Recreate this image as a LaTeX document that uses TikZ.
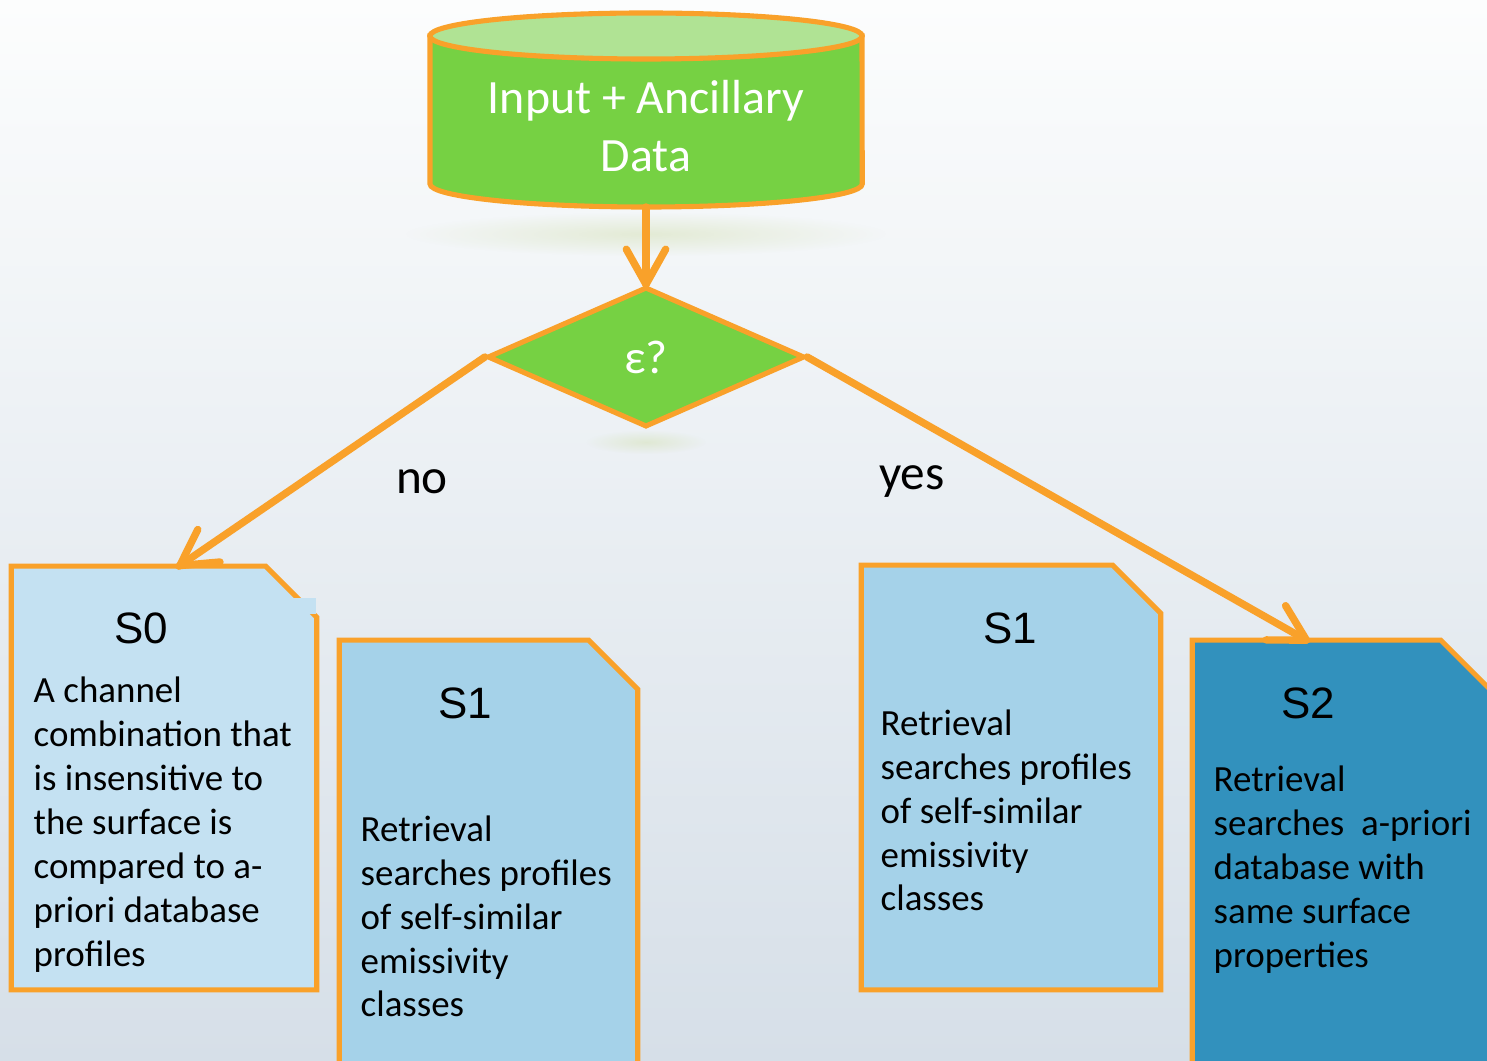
\documentclass[tikz,border=0pt]{standalone}
\usepackage{fontspec}
\setmainfont{Carlito}
\newfontfamily\labelfont{Liberation Sans}
\usetikzlibrary{shapes.geometric,decorations.markings,fadings}

\definecolor{flowgreen}{RGB}{118,209,67}
\definecolor{lightgreen}{RGB}{176,227,148}
\definecolor{lineorange}{RGB}{249,161,42}
\definecolor{paleblue}{RGB}{196,225,242}
\definecolor{skyblue}{RGB}{165,210,233}
\definecolor{deepblue}{RGB}{50,145,189}
\definecolor{bgtop}{RGB}{252,253,253}
\definecolor{bgbottom}{RGB}{214,223,232}
\definecolor{shadowtint}{RGB}{214,226,186}

\tikzfading[name=softedge, inner color=transparent!20, outer color=transparent!100]

\tikzset{
	outline/.style={draw=lineorange, line width=1.45pt},
	flowarrow/.style={draw=lineorange, line width=2.1pt, line cap=round, line join=round,
		postaction={decorate}, decoration={markings, mark=at position 1 with {\draw[lineorange, line width=2.1pt, line cap=round, line join=round] (-10pt,5.6pt) -- (0pt,0pt) -- (-10pt,-5.6pt);}}},
	sbox/.style={rectangle, inner sep=0pt},
	stitle/.style={font=\labelfont\fontsize{12.5}{14}\selectfont},
	sbody/.style={align=left, anchor=base west, inner sep=0pt, font=\fontsize{10.5}{12.5}\selectfont},
	softshadow/.style={fill=shadowtint, opacity=0.7, path fading=softedge},
}

\begin{document}
\begin{tikzpicture}[x=0.01cm,y=-0.01cm]
	\useasboundingbox (0,0) rectangle (1487,1061);
	\shade[top color=bgtop, bottom color=bgbottom] (0,0) rectangle (1487,1061);
	%shadows
	\fill[softshadow] (646,234) ellipse [x radius=2.4cm, y radius=0.22cm];
	\fill[softshadow] (646,442) ellipse [x radius=0.6cm, y radius=0.12cm];
	%DATA
	\path[fill=flowgreen, outline] (430,36) -- (430,184) arc[start angle=180, end angle=360, x radius=2.16cm, y radius=0.23cm] -- (862,36) -- cycle;
	\draw[fill=lightgreen, outline] (646,36) ellipse [x radius=2.16cm, y radius=0.23cm];
	\node[text=white, align=center, font=\fontsize{13.6}{16.5}\selectfont] (data) at (646,126) {Input + Ancillary\\Data};
	\coordinate (datafoot) at (646,207);
	%TEST
	\node[diamond, aspect=2.26, fill=flowgreen, outline, minimum width=3.17cm, minimum height=1.40cm, inner sep=0pt, text=white, font=\fontsize{13.5}{15}\selectfont] (eps) at (646,357) {ε?};
	\draw[flowarrow] (datafoot) -- (eps.north);
	%BOXES
	\node[sbox, minimum width=3.04cm, minimum height=4.22cm] (s0) at (164,778) {};
	\node[sbox, minimum width=2.97cm, minimum height=4.60cm] (s1a) at (488.5,871) {};
	\node[sbox, minimum width=2.98cm, minimum height=4.23cm] (s1b) at (1011,777.5) {};
	\node[sbox, minimum width=2.99cm, minimum height=4.60cm] (s2) at (1342.5,871) {};
	\draw[outline, fill=paleblue] (s0.south west) |- ([xshift=-0.51cm]s0.north east) -- ([yshift=-0.51cm]s0.north east) -- (s0.south east) -- cycle;
	\fill[paleblue] (15,598) rectangle (316,614);
	\draw[outline, fill=skyblue] (s1a.south west) |- ([xshift=-0.49cm]s1a.north east) -- ([yshift=-0.49cm]s1a.north east) -- (s1a.south east) -- cycle;
	\draw[outline, fill=skyblue] (s1b.south west) |- ([xshift=-0.48cm]s1b.north east) -- ([yshift=-0.48cm]s1b.north east) -- (s1b.south east) -- cycle;
	\draw[outline, fill=deepblue] (s2.south west) |- ([xshift=-0.52cm]s2.north east) -- ([yshift=-0.52cm]s2.north east) -- (s2.south east) -- cycle;
	\draw[flowarrow] (eps.west) -- ([xshift=0.15cm]s0.north);
	\draw[flowarrow] (eps.east) -- ([xshift=-0.36cm]s2.north);
	\node[font=\fontsize{14}{16}\selectfont] (no) at (422,482) {no};
	\node[font=\fontsize{14}{16}\selectfont] (yes) at (912,482) {yes};
	%TEXT
	\node[stitle] (s0t) at (141,628) {S0};
	\node[sbody] (s0b) at (33,966) {A channel\\combination that\\is insensitive to\\the surface is\\compared to a-\\priori database\\profiles};
	\node[stitle] (s1at) at (465,703) {S1};
	\node[sbody] (s1ab) at (360,1017) {Retrieval\\searches profiles\\of self-similar\\emissivity\\classes};
	\node[stitle] (s1bt) at (1010,628) {S1};
	\node[sbody] (s1bb) at (880,911) {Retrieval\\searches profiles\\of self-similar\\emissivity\\classes};
	\node[stitle] (s2t) at (1308,703) {S2};
	\node[sbody] (s2b) at (1213,967) {Retrieval\\searches~ a-priori\\database with\\same surface\\properties};
\end{tikzpicture}
\end{document}
